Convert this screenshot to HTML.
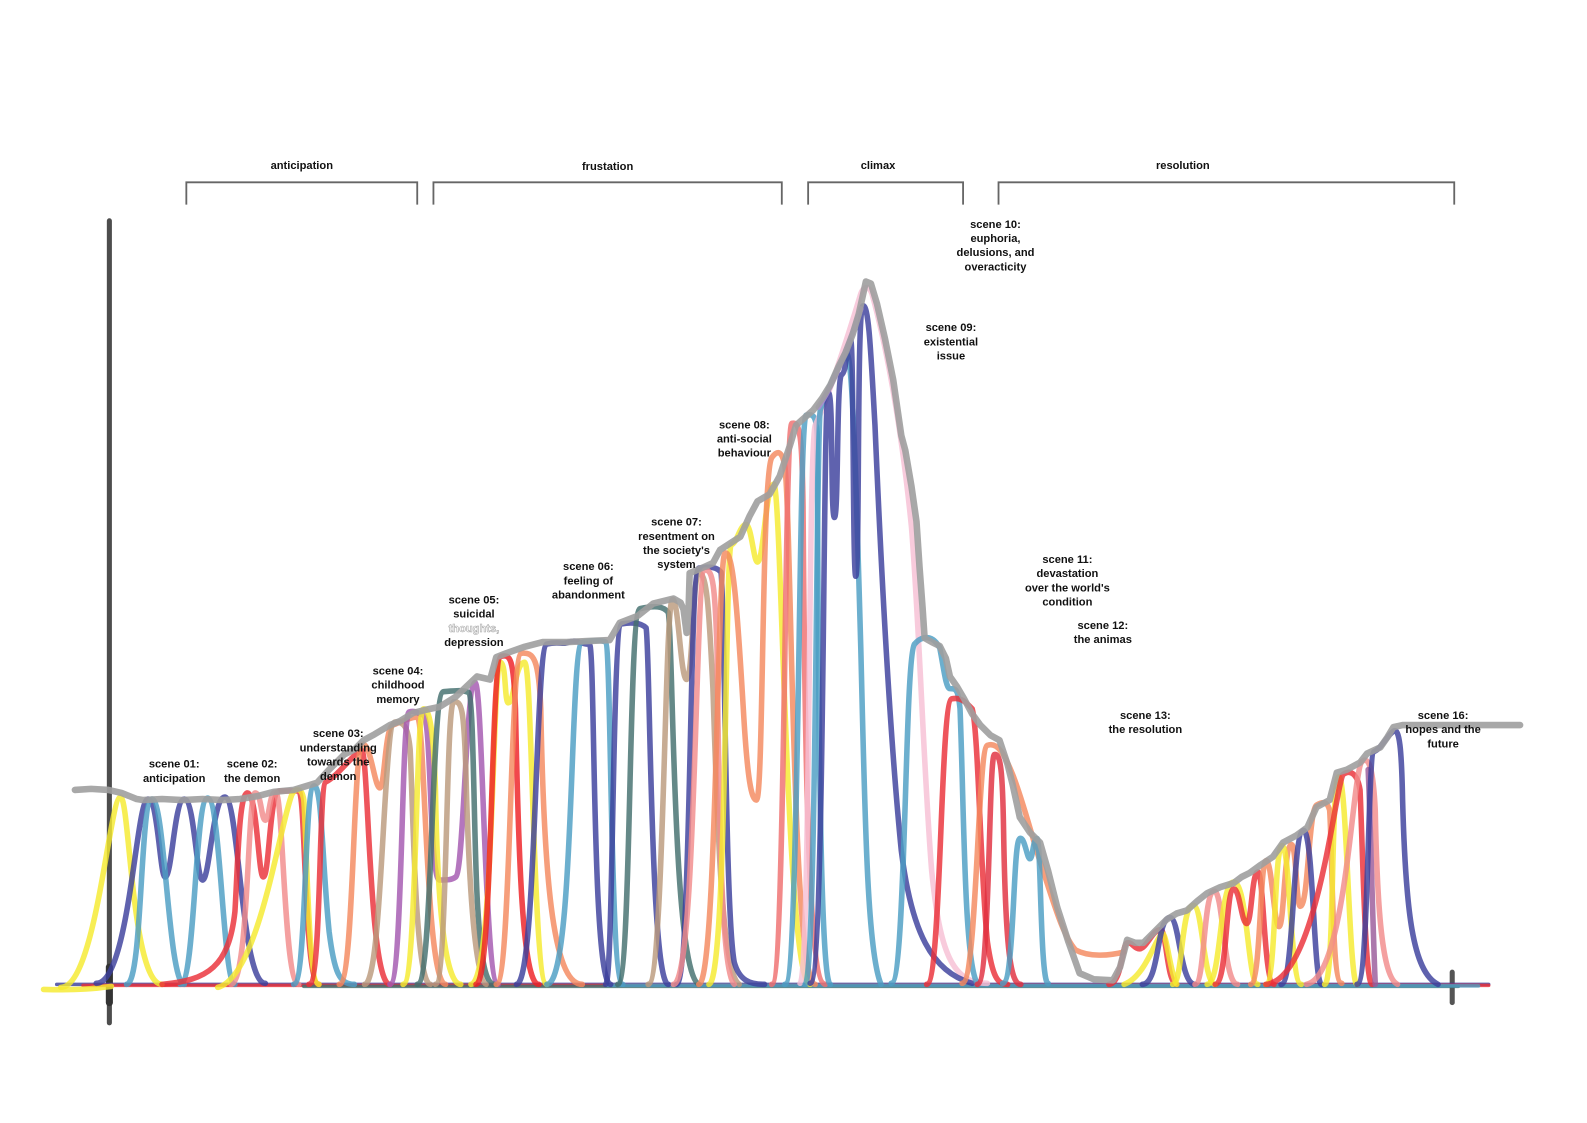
<!DOCTYPE html>
<html><head><meta charset="utf-8"><style>
html,body{margin:0;padding:0;background:#fff;}
svg{display:block;}
text{font-family:"Liberation Sans",Arial,sans-serif;font-weight:bold;font-size:11px;fill:#111;text-anchor:middle;}
.c path{fill:none;stroke-width:5.5;stroke-linecap:round;stroke-linejoin:round;stroke-opacity:0.82;}
.c path.b{stroke-width:3.5;}
</style></head><body>
<svg width="1587" height="1123" viewBox="0 0 1587 1123" xmlns="http://www.w3.org/2000/svg">
<rect width="1587" height="1123" fill="#fff"/>
<g transform="scale(1.0127)">
<!-- brackets -->
<g fill="none" stroke="#666" stroke-width="1.8">
<path d="M184,202 V180 H412 V202"/>
<path d="M428,202 V180 H772 V202"/>
<path d="M798,202 V180 H951 V202"/>
<path d="M986,202 V180 H1436 V202"/>
</g>
<text x="298" y="167">anticipation</text>
<text x="600" y="168">frustation</text>
<text x="867" y="167">climax</text>
<text x="1168" y="167">resolution</text>

<!-- axis -->
<line x1="108" y1="218" x2="108" y2="1010" stroke="#4d4d4d" stroke-width="5" stroke-linecap="round"/>
<line x1="108" y1="955" x2="108" y2="990" stroke="#333" stroke-width="7" stroke-linecap="round"/>
<line x1="1434" y1="960" x2="1434" y2="990" stroke="#555" stroke-width="5" stroke-linecap="round"/>

<g class="c">
<!-- baseline bands -->
<path class="b" d="M56,972 L1470,972" stroke="#3c3f9c"/>
<path class="b" d="M82,973 L1470,973" stroke="#ea2f38"/>
<path class="b" d="M300,974 L1440,974" stroke="#436f6e"/>
<path class="b" d="M600,973 L1460,973.5" stroke="#4c9dc3"/>
<path d="M43,977 C80,978 95,976 110,974" stroke="#f5ea2e"/>

<!-- scene 01-02 -->
<path d="M60,975 C95,975 108,787 119,787 C128,787 130,972 160,972" stroke="#f5ea2e"/>
<path d="M95,971 C128,971 134,790 146,789 C156,788 158,866 163,866 C170,866 172,789 182,789 C192,789 194,869 200,869 C207,869 210,787 222,787 C236,787 238,971 262,971" stroke="#3c3f9c"/>
<path d="M125,972 C141,972 138,790 150,789 C163,788 166,972 182,972" stroke="#4c9dc3"/>
<path d="M178,972 C193,972 192,789 205,788 C218,788 220,972 232,972" stroke="#4c9dc3"/>
<path d="M160,972 C205,968 226,955 232,900 C235,850 236,785 244,783 C254,782 255,866 260,866 C266,866 266,781 276,781 C286,781 292,781 295,781 C302,781 300,972 315,972" stroke="#ea2f38"/>
<path d="M228,972 C246,971 244,783 252,783 C258,783 258,810 262,810 C266,810 266,782 272,782 C280,782 280,972 295,972" stroke="#f28b8b"/>
<path d="M215,975 C255,965 275,820 288,785 C292,777 298,777 300,790 C303,830 304,972 315,972" stroke="#f5ea2e"/>
<path d="M290,972 C303,972 300,778 310,776 C318,775 318,850 325,920 C330,960 335,972 350,972" stroke="#4c9dc3"/>

<!-- scene 03-04 -->
<path d="M305,972 C318,972 314,775 322,772 C334,766 348,745 357,741 C364,738 364,972 385,972" stroke="#ea2f38"/>
<path d="M335,972 C350,972 348,738 358,735 C366,733 370,778 375,778 C380,778 380,718 388,716 C398,712 406,708 412,708 C420,708 420,972 440,972" stroke="#f4895e"/>
<path d="M360,972 C378,972 378,714 390,713 C400,712 403,720 405,740 C408,800 410,972 425,972" stroke="#bb9a7c"/>
<path d="M385,972 C398,972 396,705 404,703 C412,701 414,706 418,706 C426,706 424,869 434,869 C442,869 446,869 450,866 C458,860 460,676 469,674 C477,672 478,972 492,972" stroke="#a458b0"/>
<path d="M398,972 C412,972 410,702 418,700 C424,699 428,720 430,780 C432,900 440,972 455,972" stroke="#f5ea2e"/>
<path d="M412,972 C428,972 425,684 438,683 C450,682 458,681 463,684 C468,690 468,850 472,900 C475,950 480,972 488,972" stroke="#436f6e"/>
<path d="M430,972 C442,972 440,694 448,693 C456,692 458,700 460,760 C463,880 470,972 480,972" stroke="#bb9a7c"/>

<!-- scene 05-06 -->
<path d="M465,972 C488,972 486,655 494,654 C500,654 498,694 502,694 C508,694 508,655 518,654 C526,654 526,972 540,972" stroke="#f5ea2e"/>
<path d="M470,972 C487,972 484,650 495,648 C504,646 507,650 509,700 C512,850 516,972 532,972" stroke="#ee2025"/>
<path d="M490,972 C505,972 503,646 515,645 C527,644 532,650 534,700 C537,860 545,972 575,972" stroke="#f4895e"/>
<path d="M510,972 C530,972 528,640 540,636 C552,633 556,637 562,634 C570,631 576,637 582,636 C588,636 584,972 603,972" stroke="#3c3f9c"/>
<path d="M540,972 C568,972 562,636 575,634 C586,632 594,632 598,634 C604,640 602,972 615,972" stroke="#4c9dc3"/>
<path d="M598,972 C606,972 604,618 614,616 C626,614 634,616 638,620 C642,640 642,972 660,972" stroke="#3c3f9c"/>
<path d="M610,972 C624,972 620,603 632,601 C646,598 655,598 660,605 C665,640 664,960 690,972" stroke="#436f6e"/>

<!-- scene 07-08 -->
<path d="M640,972 C656,972 656,594 664,592 C670,590 672,671 678,671 C684,671 684,567 690,566 C698,565 700,600 704,680 C708,800 712,960 730,972" stroke="#bb9a7c"/>
<path d="M668,972 C683,972 680,563 690,561 C700,559 708,560 712,565 C716,600 716,900 725,950 C730,968 740,972 755,972" stroke="#3c3f9c"/>
<path d="M665,972 C688,972 686,565 696,563 C704,561 706,580 708,640 C710,800 712,960 725,972" stroke="#f28b8b"/>
<path d="M700,972 C718,972 716,540 722,538 C728,536 730,520 736,518 C742,516 744,555 748,555 C754,555 756,480 764,478 C772,476 776,972 800,972" stroke="#f5ea2e"/>
<path d="M690,972 C708,972 708,548 716,546 C724,544 728,600 734,700 C738,770 742,790 747,790 C754,790 752,470 762,452 C768,444 772,445 775,460 C782,520 782,972 805,972" stroke="#f4895e"/>
<path d="M762,972 C776,972 774,420 782,418 C790,416 792,430 793,500 C795,800 800,972 815,972" stroke="#ef6f6f"/>
<path d="M775,972 C790,972 788,412 796,410 C804,408 806,412 807,430 C808,700 810,972 820,972" stroke="#4c9dc3"/>

<!-- climax -->
<path d="M790,971 C800,971 798,440 805,420 C815,400 835,340 850,290 C853,282 858,282 861,290 C875,340 890,420 900,520 C908,620 912,760 920,860 C928,940 940,971 975,971" stroke="#f7c0d4"/>
<path d="M795,972 C806,972 806,420 810,405 C815,390 828,360 836,350 C842,344 846,500 850,640 C854,800 856,940 870,972" stroke="#4c9dc3"/>
<path d="M800,971 C815,971 812,390 818,388 C823,386 820,511 824,511 C828,511 826,372 831,370 C836,368 836,340 840,336 C843,334 842,569 845,569 C849,569 846,304 852,302 C858,300 860,350 864,420 C870,560 878,720 890,840 C900,920 920,960 960,971" stroke="#3c3f9c"/>
<path d="M808,402 C820,385 835,350 850,305" stroke="#b48ad2"/>

<!-- scene 11-12 -->
<path d="M880,971 C895,971 893,650 903,636 C912,626 922,628 928,640 C932,660 934,680 938,680 C944,680 946,680 948,700 C952,800 952,950 965,971" stroke="#4c9dc3"/>
<path d="M915,972 C930,972 928,692 940,690 C950,688 955,695 960,700 C966,720 968,860 975,930 C980,965 985,972 995,972" stroke="#ea2f38"/>
<path d="M950,971 C965,971 965,740 975,736 C985,732 992,745 1000,765 C1010,790 1020,830 1030,860 C1040,890 1050,925 1062,938 C1075,945 1095,944 1110,940" stroke="#f4895e"/>
<path d="M965,972 C978,972 976,746 982,745 C988,744 990,760 991,820 C993,940 998,972 1008,972" stroke="#e03040"/>
<path d="M990,971 C1002,971 1000,830 1007,828 C1012,826 1014,848 1017,848 C1020,848 1020,828 1024,828 C1028,828 1027,971 1035,971" stroke="#4c9dc3"/>

<!-- resolution -->
<path d="M1095,972 C1108,971 1108,932 1113,931 C1118,930 1120,937 1125,937 C1132,937 1138,918 1146,918 C1152,918 1152,971 1162,972" stroke="#ea2f38"/>
<path d="M1110,972 C1130,965 1140,930 1147,922 C1152,918 1155,960 1162,972" stroke="#f5ea2e"/>
<path d="M1128,972 C1145,972 1142,907 1155,906 C1165,905 1165,972 1180,972" stroke="#3c3f9c"/>
<path d="M1158,972 C1168,972 1166,895 1178,894 C1188,893 1188,972 1200,972" stroke="#f5ea2e"/>
<path d="M1180,972 C1190,972 1188,881 1199,880 C1208,879 1208,972 1222,972" stroke="#f28b8b"/>
<path d="M1192,972 C1206,972 1204,872 1218,871 C1232,870 1232,972 1242,972" stroke="#f5ea2e"/>
<path d="M1200,972 C1212,971 1210,880 1218,878 C1224,876 1226,912 1231,912 C1236,912 1236,862 1242,861 C1248,860 1248,972 1258,972" stroke="#ea2f38"/>
<path d="M1235,972 C1245,971 1244,852 1250,850 C1256,848 1258,915 1263,915 C1268,915 1268,836 1275,834 C1280,832 1280,895 1284,895 C1292,895 1292,800 1300,795 C1306,792 1310,790 1313,800 C1316,850 1315,971 1325,971" stroke="#f4895e"/>
<path d="M1250,972 C1260,972 1258,836 1266,835 C1274,834 1274,972 1285,972" stroke="#f5ea2e"/>
<path d="M1265,972 C1278,972 1276,821 1287,820 C1297,819 1297,972 1305,972" stroke="#3c3f9c"/>
<path d="M1308,972 C1318,972 1314,768 1322,767 C1330,766 1332,972 1340,972" stroke="#f5ea2e"/>
<path d="M1250,972 C1300,968 1318,780 1326,765 C1332,760 1340,762 1343,780 C1346,850 1348,972 1355,972" stroke="#ea2f38"/>
<path d="M1290,972 C1330,965 1335,760 1345,752 C1352,746 1356,760 1358,800 C1360,900 1365,965 1380,972" stroke="#f28b8b"/>
<path d="M1351,760 C1353,800 1355,900 1358,972" stroke="#9a5a9a"/>
<path d="M1340,972 C1352,972 1350,745 1357,742 C1364,739 1370,726 1376,722 C1382,718 1384,740 1385,790 C1388,900 1395,960 1420,972" stroke="#3c3f9c"/>

<!-- gray envelope -->
<polyline fill="none" stroke="#9e9e9e" stroke-width="6.5" stroke-linejoin="round" stroke-linecap="round" stroke-opacity="0.9" points="74,780 90,779 107,780 120,783 135,789 141,790 160,789 180,790 200,789 220,790 237,789 255,786 270,782 290,780 313,773 325,760 340,745 350,740 359,731 370,725 385,716 395,712 408,704 420,701 434,698 450,688 471,668 484,671 490,649 500,645 517,639 536,634 560,634 580,633 602,632 612,615 630,608 645,596 665,591 672,595 675,602 678,625 680,600 681,566 695,560 704,556 711,543 731,530 740,510 748,495 760,488 770,470 780,440 786,420 795,412 803,405 812,393 820,380 828,362 835,348 842,330 848,310 852,292 855,278 860,280 866,300 874,335 882,375 890,430 894,445 900,480 905,515 908,560 911,600 913,630 920,634 928,638 934,650 938,668 945,678 952,690 960,705 968,716 978,726 987,731 995,755 1000,775 1007,807 1017,822 1027,832 1035,860 1044,896 1055,930 1066,961 1080,967 1099,968 1106,955 1113,928 1121,931 1129,931 1140,920 1152,908 1162,902 1172,899 1182,890 1192,882 1205,876 1218,872 1226,866 1234,862 1245,854 1257,846 1267,832 1280,825 1291,817 1300,797 1313,790 1320,763 1330,760 1343,753 1350,744 1363,738 1370,728 1376,718 1385,716 1501,716"/>
</g>

<!-- scene labels -->
<text x="172" y="758">scene 01:</text><text x="172" y="772">anticipation</text>
<text x="249" y="758">scene 02:</text><text x="249" y="772">the demon</text>
<text x="334" y="728">scene 03:</text><text x="334" y="742">understanding</text><text x="334" y="756">towards the</text><text x="334" y="770">demon</text>
<text x="393" y="666">scene 04:</text><text x="393" y="680">childhood</text><text x="393" y="694">memory</text>
<text x="468" y="596">scene 05:</text><text x="468" y="610">suicidal</text><text x="468" y="624" style="fill:#fff;stroke:#aaa;stroke-width:0.6">thoughts,</text><text x="468" y="638">depression</text>
<text x="581" y="563">scene 06:</text><text x="581" y="577">feeling of</text><text x="581" y="591">abandonment</text>
<text x="668" y="519">scene 07:</text><text x="668" y="533">resentment on</text><text x="668" y="547">the society's</text><text x="668" y="561">system</text>
<text x="735" y="423">scene 08:</text><text x="735" y="437">anti-social</text><text x="735" y="451">behaviour</text>
<text x="939" y="327">scene 09:</text><text x="939" y="341">existential</text><text x="939" y="355">issue</text>
<text x="983" y="225">scene 10:</text><text x="983" y="239">euphoria,</text><text x="983" y="253">delusions, and</text><text x="983" y="267">overacticity</text>
<text x="1054" y="556">scene 11:</text><text x="1054" y="570">devastation</text><text x="1054" y="584">over the world's</text><text x="1054" y="598">condition</text>
<text x="1089" y="621">scene 12:</text><text x="1089" y="635">the animas</text>
<text x="1131" y="710">scene 13:</text><text x="1131" y="724">the resolution</text>
<text x="1425" y="710">scene 16:</text><text x="1425" y="724">hopes and the</text><text x="1425" y="738">future</text>
</g>
</svg>
</body></html>
